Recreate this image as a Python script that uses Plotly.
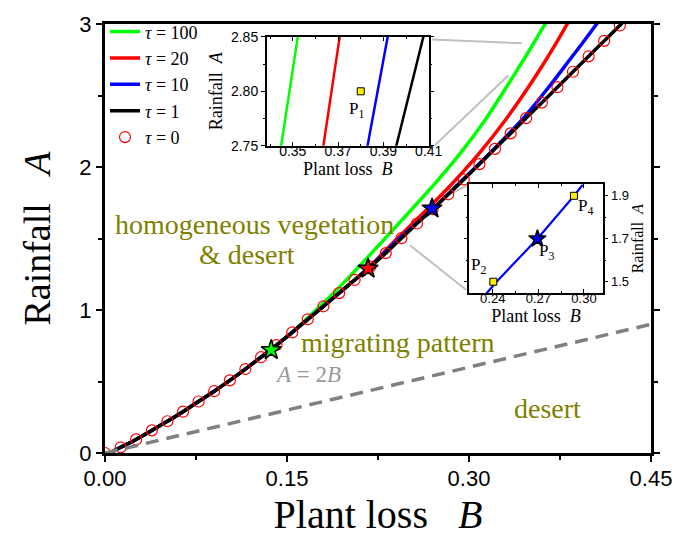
import plotly.graph_objects as go

# ---------------- data ----------------
# tau = 0 (open circles)
B_tau0 = [0.0, 0.0129, 0.0257, 0.0386, 0.0514, 0.0643, 0.0771, 0.0900, 0.1029, 0.1157,
          0.1286, 0.1414, 0.1543, 0.1671, 0.1800, 0.1929, 0.2057, 0.2186, 0.2314, 0.2443,
          0.2571, 0.2700, 0.2829, 0.2957, 0.3086, 0.3214, 0.3343, 0.3471, 0.3600, 0.3729,
          0.3857, 0.3986, 0.4114, 0.4243]
A_tau0 = [0.0, 0.04, 0.095, 0.158, 0.222, 0.289, 0.36, 0.432, 0.508, 0.587,
          0.67, 0.755, 0.843, 0.935, 1.026, 1.118, 1.21, 1.303, 1.398, 1.502,
          1.605, 1.706, 1.809, 1.913, 2.02, 2.127, 2.235, 2.342, 2.45, 2.558,
          2.666, 2.774, 2.882, 2.99]

# tau = 1 (black)
B_tau1 = [0.004, 0.0129, 0.0257, 0.0386, 0.0514, 0.0643, 0.0771, 0.0900, 0.1029, 0.1157,
          0.1286, 0.1414, 0.1543, 0.1671, 0.1800, 0.1929, 0.2057, 0.2186, 0.2314, 0.2443,
          0.2571, 0.2700, 0.2829, 0.2957, 0.3086, 0.3214, 0.3343, 0.3471, 0.3600, 0.3729,
          0.3857, 0.3986, 0.4114, 0.4243, 0.4300]
A_tau1 = [0.0, 0.04, 0.095, 0.158, 0.222, 0.289, 0.36, 0.432, 0.508, 0.587,
          0.67, 0.755, 0.843, 0.935, 1.026, 1.118, 1.21, 1.303, 1.398, 1.502,
          1.605, 1.706, 1.809, 1.913, 2.02, 2.127, 2.235, 2.342, 2.45, 2.558,
          2.666, 2.774, 2.882, 2.99, 3.04]

# tau = 10 (blue)
B_tau10 = [0.004, 0.0129, 0.0257, 0.0386, 0.0514, 0.0643, 0.0771, 0.0900, 0.1029, 0.1157,
           0.1286, 0.1414, 0.1543, 0.1671, 0.1800, 0.1929, 0.2057, 0.2186, 0.2425, 0.2694,
           0.2935, 0.3180, 0.3435, 0.3653, 0.3830, 0.3920, 0.4052, 0.4095]
A_tau10 = [0.0, 0.04, 0.095, 0.158, 0.222, 0.289, 0.36, 0.432, 0.508, 0.587,
           0.67, 0.755, 0.843, 0.935, 1.026, 1.118, 1.21, 1.303, 1.5, 1.7,
           1.9, 2.104, 2.329, 2.554, 2.75, 2.85, 3.0, 3.05]

# tau = 20 (red)
B_tau20 = [0.004, 0.0129, 0.0257, 0.0386, 0.0514, 0.0643, 0.0771, 0.0900, 0.1029, 0.1157,
           0.1286, 0.1414, 0.1543, 0.1671, 0.1800, 0.1929, 0.2057, 0.2165, 0.2408, 0.2655,
           0.2855, 0.3092, 0.3300, 0.3486, 0.3635, 0.3707, 0.3809, 0.3843]
A_tau20 = [0.0, 0.04, 0.095, 0.158, 0.222, 0.289, 0.36, 0.432, 0.508, 0.587,
           0.67, 0.755, 0.843, 0.935, 1.026, 1.118, 1.21, 1.29, 1.5, 1.705,
           1.878, 2.104, 2.329, 2.554, 2.75, 2.85, 3.0, 3.05]

# tau = 100 (green)
B_tau100 = [0.004, 0.0129, 0.0257, 0.0386, 0.0514, 0.0643, 0.0771, 0.0900, 0.1029, 0.1157,
            0.1286, 0.1414, 0.1543, 0.1672, 0.1878, 0.2143, 0.2448, 0.2713, 0.2936, 0.3133,
            0.3305, 0.3450, 0.3522, 0.3627, 0.3661]
A_tau100 = [0.0, 0.04, 0.095, 0.158, 0.222, 0.289, 0.36, 0.432, 0.508, 0.587,
            0.67, 0.755, 0.843, 0.945, 1.113, 1.349, 1.63, 1.878, 2.104, 2.329,
            2.554, 2.75, 2.85, 3.0, 3.05]

# A = 2B boundary
B_line = [0.0, 0.45]
A_line = [0.0, 0.9]

# stars on the main panel (tau = 100, 20, 10)
star_B = [0.137, 0.2168, 0.2695]
star_A = [0.72, 1.29, 1.71]
star_colors = ["#00ff00", "#ff0000", "#0000ff"]

# marked points
P1 = (0.380, 2.80)
P2 = (0.2404, 1.50)
P3 = (0.2694, 1.70)
P4 = (0.2934, 1.90)

# zoom connector lines (main-panel data coords)
connectors = [((0.2695, 2.892), (0.3434, 2.865)),
              ((0.2719, 2.152), (0.3324, 2.640)),
              ((0.2818, 1.797), (0.2999, 1.878)),
              ((0.2513, 1.453), (0.2975, 1.142))]

x_ticks = [0.0, 0.15, 0.30, 0.45]
x_ticktext = ["0.00", "0.15", "0.30", "0.45"]
y_ticks = [0, 1, 2, 3]

# ---------------- figure ----------------
SERIF = "Liberation Serif"
SANS = "Liberation Sans"
OLIVE = "#808000"

fig = go.Figure()

curves = [("<i>τ</i> = 100", B_tau100, A_tau100, "#00ff00"),
          ("<i>τ</i> = 20", B_tau20, A_tau20, "#ff0000"),
          ("<i>τ</i> = 10", B_tau10, A_tau10, "#0000ff"),
          ("<i>τ</i> = 1", B_tau1, A_tau1, "#000000")]

for name, bx, ay, col in curves:
    fig.add_trace(go.Scatter(x=bx, y=ay, mode="lines", name=name,
                             line=dict(color=col, width=3.5, shape="spline", smoothing=0.8),
                             xaxis="x", yaxis="y"))

fig.add_trace(go.Scatter(x=B_tau0, y=A_tau0, mode="markers", name="<i>τ</i> = 0",
                         marker=dict(symbol="circle-open", size=11, color="#ff0000",
                                     line=dict(width=1.2)),
                         xaxis="x", yaxis="y"))

fig.add_trace(go.Scatter(x=B_line, y=A_line, mode="lines", showlegend=False,
                         line=dict(color="#808080", width=3.5, dash="13px,8px"),
                         xaxis="x", yaxis="y"))

fig.add_trace(go.Scatter(x=star_B, y=star_A, mode="markers", showlegend=False,
                         marker=dict(symbol="star", size=15, color=star_colors,
                                     line=dict(color="black", width=1.5)),
                         xaxis="x", yaxis="y", cliponaxis=False))

# ---------- inset 1 ----------
for name, bx, ay, col in curves:
    fig.add_trace(go.Scatter(x=bx, y=ay, mode="lines", showlegend=False,
                             line=dict(color=col, width=2.5),
                             xaxis="x2", yaxis="y2"))
fig.add_trace(go.Scatter(x=[P1[0]], y=[P1[1]], mode="markers", showlegend=False,
                         marker=dict(symbol="square", size=7, color="#ffee00",
                                     line=dict(color="black", width=1)),
                         xaxis="x2", yaxis="y2"))

# ---------- inset 2 ----------
fig.add_trace(go.Scatter(x=B_tau10, y=A_tau10, mode="lines", showlegend=False,
                         line=dict(color="#0000ff", width=2.2),
                         xaxis="x3", yaxis="y3"))
fig.add_trace(go.Scatter(x=[P2[0], P4[0]], y=[P2[1], P4[1]], mode="markers", showlegend=False,
                         marker=dict(symbol="square", size=7, color="#ffee00",
                                     line=dict(color="black", width=1)),
                         xaxis="x3", yaxis="y3"))
fig.add_trace(go.Scatter(x=[P3[0]], y=[P3[1]], mode="markers", showlegend=False,
                         marker=dict(symbol="star", size=13, color="#0000ff",
                                     line=dict(color="black", width=1.5)),
                         xaxis="x3", yaxis="y3"))

# ---------- shapes ----------
shapes = []
for (b0, a0), (b1, a1) in connectors:
    shapes.append(dict(type="line", xref="x", yref="y", x0=b0, y0=a0, x1=b1, y1=a1,
                       line=dict(color="#c0c0c0", width=2), layer="below"))
shapes.append(dict(type="line", xref="x2 domain", yref="y2", x0=0, x1=1, y0=P1[1], y1=P1[1],
                   line=dict(color="#aaaaaa", width=2, dash="dot"), layer="below"))
for a in (P2[1], P4[1]):
    shapes.append(dict(type="line", xref="x3 domain", yref="y3", x0=0, x1=1, y0=a, y1=a,
                       line=dict(color="#aaaaaa", width=1.5, dash="dot"), layer="below"))

# ---------- annotations ----------
ann = []
def txt(x, y, s, size, color="black", xref="x", yref="y", **kw):
    ann.append(dict(x=x, y=y, xref=xref, yref=yref, text=s, showarrow=False,
                    font=dict(family=SERIF, size=size, color=color), **kw))

txt(0.1228, 1.60, "homogeneous vegetation", 28, OLIVE)
txt(0.117, 1.385, "&amp; desert", 28, OLIVE)
txt(0.2415, 0.775, "migrating pattern", 28, OLIVE)
txt(0.3643, 0.31, "desert", 28, OLIVE)
txt(0.1673, 0.552, "<i>A</i> = 2<i>B</i>", 23, "#999999")
txt(0.378, 2.783, "P<sub>1</sub>", 17, xref="x2", yref="y2")
txt(0.2305, 1.571, "P<sub>2</sub>", 17, xref="x3", yref="y3")
txt(0.2754, 1.638, "P<sub>3</sub>", 17, xref="x3", yref="y3")
txt(0.301, 1.848, "P<sub>4</sub>", 17, xref="x3", yref="y3")

axis_common = dict(showgrid=False, zeroline=False, showline=True, linecolor="black",
                   ticks="outside", tickcolor="black")
inset_x = dict(showgrid=False, zeroline=False, showline=True, linecolor="black",
               ticks="inside", tickcolor="black", ticklen=4, tickwidth=1.2,
               linewidth=1.5, mirror="ticks")
inset_y = dict(showgrid=False, zeroline=False, showline=True, linecolor="black",
               ticks="outside", tickcolor="black", ticklen=4, tickwidth=1.2,
               linewidth=1.5, mirror="ticks")

fig.update_layout(
    width=699, height=541,
    margin=dict(l=105, r=48, t=14, b=83),
    paper_bgcolor="white", plot_bgcolor="white",
    font=dict(family=SANS, color="black"),
    showlegend=True,
    legend=dict(x=0.0, y=1.025, xanchor="left", yanchor="top", bgcolor="rgba(0,0,0,0)",
                font=dict(family=SERIF, size=18), tracegroupgap=0, itemwidth=30),
    xaxis=dict(axis_common, domain=[0, 1], range=[0, 0.45], tickvals=x_ticks,
               ticktext=x_ticktext, ticklen=6, tickwidth=2, linewidth=3, mirror=True,
               tickfont=dict(family=SANS, size=22), ticklabelstandoff=-2,
               minor=dict(dtick=0.075, ticklen=4, tickwidth=2, ticks="outside", tickcolor="black"),
               title=dict(text="Plant loss\u00a0\u00a0 <i>B</i>", font=dict(family=SERIF, size=40), standoff=10)),
    yaxis=dict(axis_common, domain=[0, 1], range=[0, 3], tickvals=y_ticks,
               ticklen=6, tickwidth=2, linewidth=3, mirror="ticks",
               tickfont=dict(family=SANS, size=22),
               minor=dict(dtick=0.5, ticklen=4, tickwidth=2, ticks="outside", tickcolor="black"),
               title=dict(text="Rainfall\u00a0\u00a0 <i>A</i>", font=dict(family=SERIF, size=38), standoff=18)),
    xaxis2=dict(inset_x, domain=[0.2962, 0.5929], anchor="y2", range=[0.3385, 0.41],
                tickvals=[0.35, 0.37, 0.39, 0.41], ticktext=["0.35", "0.37", "0.39", "0.41"],
                minor=dict(dtick=0.01, ticklen=2, ticks="inside", tickcolor="black"),
                tickfont=dict(family=SANS, size=14), ticklabelstandoff=-8,
                title=dict(text="Plant loss\u00a0 <i>B</i>", font=dict(family=SERIF, size=18), standoff=2)),
    yaxis2=dict(inset_y, domain=[0.7162, 0.9700], anchor="x2", range=[2.75, 2.85],
                tickvals=[2.75, 2.80, 2.85], ticktext=["2.75", "2.80", "2.85"],
                minor=dict(dtick=0.025, ticklen=2, ticks="outside", tickcolor="black"),
                tickfont=dict(family=SANS, size=14),
                title=dict(text="Rainfall\u00a0 <i>A</i>", font=dict(family=SERIF, size=18), standoff=4)),
    xaxis3=dict(inset_x, domain=[0.6672, 0.9115], anchor="y3", range=[0.2246, 0.3123],
                tickvals=[0.24, 0.27, 0.30], ticktext=["0.24", "0.27", "0.30"],
                minor=dict(dtick=0.015, ticklen=2, ticks="inside", tickcolor="black"),
                tickfont=dict(family=SANS, size=13), ticklabelstandoff=-7,
                title=dict(text="Plant loss\u00a0 <i>B</i>", font=dict(family=SERIF, size=18), standoff=2)),
    yaxis3=dict(inset_y, domain=[0.3732, 0.6261], anchor="x3", range=[1.448, 1.953],
                side="right", tickvals=[1.5, 1.7, 1.9], ticktext=["1.5", "1.7", "1.9"],
                minor=dict(dtick=0.1, ticklen=2, ticks="outside", tickcolor="black"),
                tickfont=dict(family=SANS, size=13),
                title=dict(text="Rainfall\u00a0 <i>A</i>", font=dict(family=SERIF, size=16), standoff=4)),
    shapes=shapes,
    annotations=ann,
)

fig.write_html("out.html")
